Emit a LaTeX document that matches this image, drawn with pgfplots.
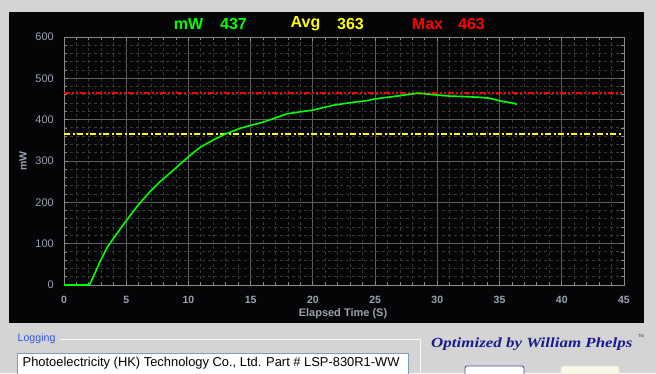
\documentclass[border=0pt]{standalone}
\usepackage{pgfplots}
\pgfplotsset{compat=1.18}
\usepackage{fontspec}
\setmainfont{Liberation Sans}
\newfontfamily\serifit{Liberation Serif}
\definecolor{bgray}{HTML}{D4D4D4}
\definecolor{panel}{HTML}{050507}
\definecolor{majgrid}{HTML}{5E5E5E}
\definecolor{mingrid}{HTML}{383838}
\definecolor{axisgray}{HTML}{8A8A8A}
\definecolor{ticklab}{HTML}{9AA3B0}
\definecolor{lgreen}{HTML}{00FF00}
\definecolor{lyellow}{HTML}{FFFF00}
\definecolor{lred}{HTML}{FF0000}
\definecolor{logblue}{HTML}{3355DD}
\definecolor{sigblue}{HTML}{1A1A8C}
\definecolor{boxborder}{HTML}{7F9DB9}
\pgfplotstableread{
t v
0 0
2.05 0
2.89 56
3.43 89
3.97 113
5.04 157
5.97 194
6.91 226
7.72 250
8.79 278
9.99 310
10.93 333
12.0 351
12.94 365
14.15 379
14.95 386
15.76 392
16.29 397
17.9 414
18.97 419
19.99 423
21.65 435
22.99 441
24.33 446
24.95 450
25.94 454
27.0 458
28.35 464
28.9 463
29.8 460
31.0 457
32.1 456
33.4 454
34.2 452
34.8 447
35.45 443
36.1 440
36.4 437
}\power
\begin{document}
\begin{tikzpicture}[x=1pt,y=1pt]
\useasboundingbox (0,0) rectangle (656,373);
\fill[bgray] (0,0) rectangle (656,373);
\fill[panel] (9,50) rectangle (644,361);
% title
\tikzset{ttl/.style={font=\bfseries\fontsize{16}{18}\selectfont, inner sep=0pt}}
\node[ttl, text=lgreen] at (188.5,349) {mW};
\node[ttl, text=lgreen] at (233.5,349) {437};
\node[ttl, text=lyellow] at (305.5,349) {Avg};
\node[ttl, text=lyellow] at (350.5,349) {363};
\node[ttl, text=lred] at (427.5,349) {Max};
\node[ttl, text=lred] at (471.5,349) {463};
\begin{axis}[
  at={(64pt,88pt)}, anchor=south west,
  scale only axis, width=560pt, height=248pt,
  xmin=0, xmax=45, ymin=0, ymax=600,
  xtick={0,5,...,45}, ytick={0,100,...,600},
  minor tick num=4,
  grid=both,
  major grid style={majgrid, line width=1pt},
  minor grid style={mingrid, line width=0.9pt, dash pattern=on 3pt off 3pt},
  axis line style={axisgray, line width=1pt},
  tick style={axisgray, line width=0.8pt},
  tick align=inside,
  major tick length=4pt, minor tick length=3pt,
  /pgf/number format/assume math mode=true,
  xticklabel style={font=\bfseries\fontsize{10.5}{12}\selectfont, text=ticklab, inner sep=0pt, anchor=north, yshift=-11pt},
  yticklabel style={font=\fontsize{11}{13}\selectfont, text=ticklab, inner sep=0pt, anchor=east, xshift=-10pt},
  clip=false,
]
\addplot[lred, line width=1.8pt, dash pattern=on 6pt off 2pt on 2pt off 2pt on 2pt off 2pt] coordinates {(0,465) (44.8,465)};
\addplot[lyellow, line width=1.8pt, dash pattern=on 6pt off 2.5pt on 2pt off 2.5pt] coordinates {(0,366) (44.8,366)};
\addplot[lgreen, line width=1.6pt] table[x=t, y=v] {\power};
\end{axis}
\node[font=\bfseries\fontsize{11}{13}\selectfont, text=ticklab] at (343,59) {Elapsed Time (S)};
\node[font=\bfseries\fontsize{10.5}{12}\selectfont, text=ticklab, rotate=90] at (23,212) {mW};
% bottom controls
\draw[white!85!bgray, line width=0.6pt] (60,34) -- (420,34) -- (420,0);
\node[font=\fontsize{10.6}{12}\selectfont, text=logblue, anchor=west, inner sep=0pt] at (17.5,34.5) {Logging};
\fill[white] (17.5,0) rectangle (408,20);
\draw[boxborder, line width=0.8pt] (17.5,-2) -- (17.5,20) -- (408,20) -- (408,-2);
\node[font=\fontsize{12.9}{15}\selectfont, text=black, anchor=west, inner sep=0pt] at (22.5,10) {Photoelectricity (HK) Technology Co., Ltd. Part \# LSP-830R1-WW};
\node[font=\serifit\bfseries\itshape\fontsize{14}{16}\selectfont, text=sigblue, anchor=west, inner sep=0pt, xscale=1.21] at (431,29) {Optimized by William Phelps};
\node[font=\fontsize{4}{5}\selectfont, text=sigblue, inner sep=0pt] at (641,37) {TM};
\fill[white, rounded corners=2pt] (465,-5) rectangle (524,7);
\draw[sigblue!80!white, line width=0.8pt, rounded corners=2pt] (465,-5) rectangle (524,7);
\fill[white!92!yellow!95!gray, rounded corners=2pt] (561,-5) rectangle (619,7);
\draw[white!80!gray, line width=0.6pt, rounded corners=2pt] (561,-5) rectangle (619,7);
\end{tikzpicture}
\end{document}
